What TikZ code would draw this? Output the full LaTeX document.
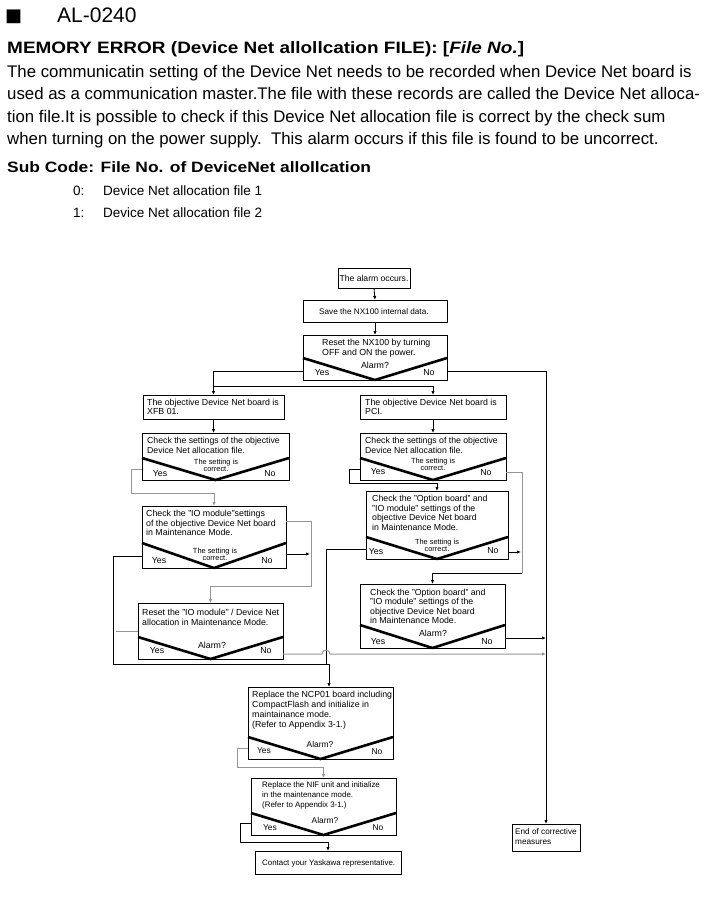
\documentclass[tikz,border=0pt]{standalone}
\usepackage{fontspec}
\usepackage{graphicx}
\setmainfont{Liberation Sans}
\newfontfamily\dejavu{DejaVu Sans}
\usetikzlibrary{arrows.meta}
\definecolor{lg}{RGB}{150,150,150}
\newcommand{\fs}[2]{\fontsize{#1}{#2}\selectfont}
\begin{document}
\begin{tikzpicture}[x=1pt,y=-1pt,
  box/.style={draw, line width=0.8pt, anchor=north west, inner sep=0pt, outer sep=0pt},
  btxt/.style={anchor=north west, inner sep=0pt, align=left, font=\fs{8.8}{9.8}},
  lbl/.style={anchor=base, inner sep=0pt, font=\fs{8.8}{9.8}},
  stxt/.style={anchor=base, inner sep=0pt, font=\fs{7.4}{7.4}},
  para/.style={anchor=base west, inner sep=0pt, font=\fs{16.8}{19}},
  decv/.style={line width=2.6pt, line join=bevel},
  con/.style={line width=0.8pt},
  gcon/.style={line width=1pt, draw=lg},
  arr/.style={-{Latex[length=4pt,width=3.4pt]}},
]
\useasboundingbox[fill=white] (0,0) rectangle (717,904);

% ---------- header ----------
\node[anchor=base west, inner sep=0pt, font=\dejavu\fs{18}{20}] (sq) at (5,22) {■};
\node[anchor=base west, inner sep=0pt, font=\fs{21}{24}] (al) at (57,23) {AL-0240};
\node[anchor=base west, inner sep=0pt, font=\bfseries\fs{16.5}{19}] (title) at (7,54) {\scalebox{1.15}[1]{MEMORY ERROR (Device Net allollcation FILE): [\textit{File No.}]}};
\node[para] (p1) at (7,78) {The communicatin setting of the Device Net needs to be recorded when Device Net board is};
\node[para] (p2) at (7,100) {used as a communication master.The file with these records are called the Device Net alloca-};
\node[para] (p3) at (7,123) {tion file.It is possible to check if this Device Net allocation file is correct by the check sum};
\node[para] (p4) at (7,145) {when turning on the power supply.\ \ This alarm occurs if this file is found to be uncorrect.};
\node[anchor=base west, inner sep=0pt, font=\bfseries\fs{15}{17}] (sub) at (7,172) {\scalebox{1.16}[1]{Sub Code: File No. of DeviceNet allollcation}};
\node[anchor=base west, inner sep=0pt, font=\fs{13.5}{16}] (n0) at (73,195) {0:};
\node[anchor=base west, inner sep=0pt, font=\fs{13.5}{16}] (f0) at (103,195) {Device Net allocation file 1};
\node[anchor=base west, inner sep=0pt, font=\fs{13.5}{16}] (n1) at (73,217) {1:};
\node[anchor=base west, inner sep=0pt, font=\fs{13.5}{16}] (f1) at (103,217) {Device Net allocation file 2};

% ---------- boxes ----------
\node[box, minimum width=72pt, minimum height=20pt] (alarm) at (338,268) {};
\node[box, minimum width=144pt, minimum height=22pt] (save) at (303,300) {};
\node[box, minimum width=144pt, minimum height=45pt] (reset) at (303,335) {};
\node[box, minimum width=141pt, minimum height=24pt] (xfb) at (143,395) {};
\node[box, minimum width=146pt, minimum height=24pt] (pci) at (360,395) {};
\node[box, minimum width=147pt, minimum height=47pt] (checkL) at (142,433) {};
\node[box, minimum width=146pt, minimum height=47pt] (checkR) at (360,433) {};
\node[box, minimum width=144pt, minimum height=62pt] (ioL) at (142,506) {};
\node[box, minimum width=142pt, minimum height=68pt] (opt1) at (366,491) {};
\node[box, minimum width=145pt, minimum height=56pt] (resetIO) at (138,603) {};
\node[box, minimum width=145pt, minimum height=64pt] (opt2) at (360,584) {};
\node[box, minimum width=145pt, minimum height=72pt] (ncp) at (248,687) {};
\node[box, minimum width=145pt, minimum height=57pt] (nif) at (251,778) {};
\node[box, minimum width=146pt, minimum height=23pt] (contact) at (255,851) {};
\node[box, minimum width=68pt, minimum height=27pt] (endb) at (512,824) {};

% ---------- decision V shapes ----------
\draw[decv] (303,358) -- (reset.south) -- (447,358);
\draw[decv] (142,458) -- (checkL.south) -- (289,458);
\draw[decv] (360,458) -- (checkR.south) -- (506,458);
\draw[decv] (142,543) -- (ioL.south) -- (286,543);
\draw[decv] (366,537) -- (opt1.south) -- (508,537);
\draw[decv] (138,637) -- (resetIO.south) -- (283,637);
\draw[decv] (360,625) -- (opt2.south) -- (505,625);
\draw[decv] (248,737) -- (ncp.south) -- (393,737);
\draw[decv] (251,813) -- (nif.south) -- (396,813);

% ---------- box texts ----------
\node[lbl, anchor=center, font=\fs{8.6}{9.8}] (talarm) at (alarm.center) {The alarm occurs.};
\node[lbl, anchor=base west, font=\fs{8.2}{9.8}] (tsave) at (319,314) {Save the NX100 internal data.};
\node[btxt] (treset) at (322,339) {Reset the NX100 by turning\\OFF and ON the power.};
\node[btxt, font=\fs{8.8}{9.4}] (txfb) at (147,399) {The objective Device Net board is\\XFB 01.};
\node[btxt, font=\fs{8.8}{9.4}] (tpci) at (365,399) {The objective Device Net board is\\PCI.};
\node[btxt, font=\fs{8.7}{10}] (tcheckL) at (147,437) {Check the settings of the objective\\Device Net allocation file.};
\node[btxt, font=\fs{8.7}{10}] (tcheckR) at (365,437) {Check the settings of the objective\\Device Net allocation file.};
\node[btxt, font=\fs{8.8}{9.5}] (tioL) at (146,510) {Check the "IO module"settings\\of the objective Device Net board\\in Maintenance Mode.};
\node[btxt, font=\fs{8.75}{9.7}] (topt1) at (372,495) {Check the "Option board" and\\"IO module" settings of the\\objective Device Net board\\in Maintenance Mode.};
\node[btxt, font=\fs{8.8}{10}] (tresetIO) at (142,609) {Reset the "IO module" / Device Net\\allocation in Maintenance Mode.};
\node[btxt, font=\fs{8.75}{9.4}] (topt2) at (370,589) {Check the "Option board" and\\"IO module" settings of the\\objective Device Net board\\in Maintenance Mode.};
\node[btxt, font=\fs{8.8}{10}] (tncp) at (252,691) {Replace the NCP01 board including\\CompactFlash and initialize in\\maintainance mode.\\(Refer to Appendix 3-1.)};
\node[btxt, font=\fs{7.9}{9.7}] (tnif) at (262,782) {Replace the NIF unit and initialize\\in the maintenance mode.\\(Refer to Appendix 3-1.)};
\node[lbl, anchor=base west, font=\fs{7.9}{9.7}] (tcontact) at (262,865) {Contact your Yaskawa representative.};
\node[btxt, font=\fs{8.2}{10}] (tend) at (515,828) {End of corrective\\measures};

% ---------- decision labels ----------
\node[lbl] (a1) at (375,368) {Alarm?};
\node[lbl] (y1) at (322,375) {Yes};
\node[lbl] (n1l) at (429,375) {No};

\node[stxt] (s2a) at (216,464.5) {The setting is};
\node[stxt] (s2b) at (216,471) {correct.};
\node[lbl] (y2) at (160,476) {Yes};
\node[lbl] (n2) at (270,476) {No};

\node[stxt] (s3a) at (433,463.5) {The setting is};
\node[stxt] (s3b) at (433,470) {correct.};
\node[lbl] (y3) at (378,474) {Yes};
\node[lbl] (n3) at (486,475) {No};

\node[stxt] (s4a) at (215,553.5) {The setting is};
\node[stxt] (s4b) at (215,560) {correct.};
\node[lbl] (y4) at (159,563) {Yes};
\node[lbl] (n4) at (267,563) {No};

\node[stxt] (s5a) at (437,544.5) {The setting is};
\node[stxt] (s5b) at (437,551) {correct.};
\node[lbl] (y5) at (376,554) {Yes};
\node[lbl] (n5) at (493,553) {No};

\node[lbl] (a6) at (212,648) {Alarm?};
\node[lbl] (y6) at (157,653) {Yes};
\node[lbl] (n6) at (266,653) {No};

\node[lbl] (a7) at (433,636) {Alarm?};
\node[lbl] (y7) at (378,644) {Yes};
\node[lbl] (n7) at (487,644) {No};

\node[lbl, font=\fs{8.4}{9.8}] (a8) at (320,747) {Alarm?};
\node[lbl, font=\fs{8.4}{9.8}] (y8) at (264,753) {Yes};
\node[lbl, font=\fs{8.4}{9.8}] (n8) at (377,754) {No};

\node[lbl, font=\fs{8.4}{9.8}] (a9) at (325,823) {Alarm?};
\node[lbl, font=\fs{8.4}{9.8}] (y9) at (270,830) {Yes};
\node[lbl, font=\fs{8.4}{9.8}] (n9) at (378,830) {No};

% ---------- connectors ----------
\coordinate (o1n) at (521,552);
\coordinate (ioLn) at (310,554);

\draw[con,arr] (alarm.south) -- (save.north);
\draw[con,arr] (save.south) -- (reset.north);
\draw[con,arr] (reset.west |- 0,371.7) -| (xfb.north);
\draw[con,arr] (xfb.north |- 0,386.7) -| (pci.north);
\draw[con,arr] (reset.east |- 0,371.7) -| (endb.north);
\draw[con,arr] (xfb.south) -- (xfb.south |- checkL.north);
\draw[con,arr] (pci.south) -- (checkR.north);

\draw[gcon,arr] (checkL.west |- 0,469) -- (131,469) -- (131,493) -| (ioL.north);
\draw[con,arr] (checkR.west |- 0,469) -- (349,469) -- (349,483) -| (opt1.north);
\draw[gcon] (checkR.east |- 0,472) -- (522,472) -- (522,573);
\draw[con,arr] (522,573) -| (opt2.north);

\draw[con,arr] (opt1.east |- 0,552) -- (o1n);
\draw[con] (opt1.west |- 0,549) -- (326,549) -- (326,664);

\draw[gcon,arr] (ioL.east |- 0,521) -- (311,521) -- (311,586) -| (resetIO.north);
\draw[con,arr] (ioL.east |- 0,554) -- (ioLn);
\draw[con,arr] (ioL.west |- 0,556) -- (113,556) -- (113,664) -- (329,664) -- (329,0 |- ncp.north);

\draw[gcon] (116,631) -- (resetIO.west |- 0,631);
\draw[gcon,arr] (resetIO.east |- 0,654) -- (322,654) .. controls (322,649) and (330,649) .. (330,654) -- (endb.north |- 0,654);
\draw[con,arr] (opt2.east |- 0,638) -- (endb.north |- 0,638);

\draw[gcon,arr] (ncp.west |- 0,748) -- (237,748) -- (237,767) -| (nif.north);
\draw[con,arr] (nif.west |- 0,823) -- (240,823) -- (240,842) -| (contact.north);
\end{tikzpicture}
\end{document}
